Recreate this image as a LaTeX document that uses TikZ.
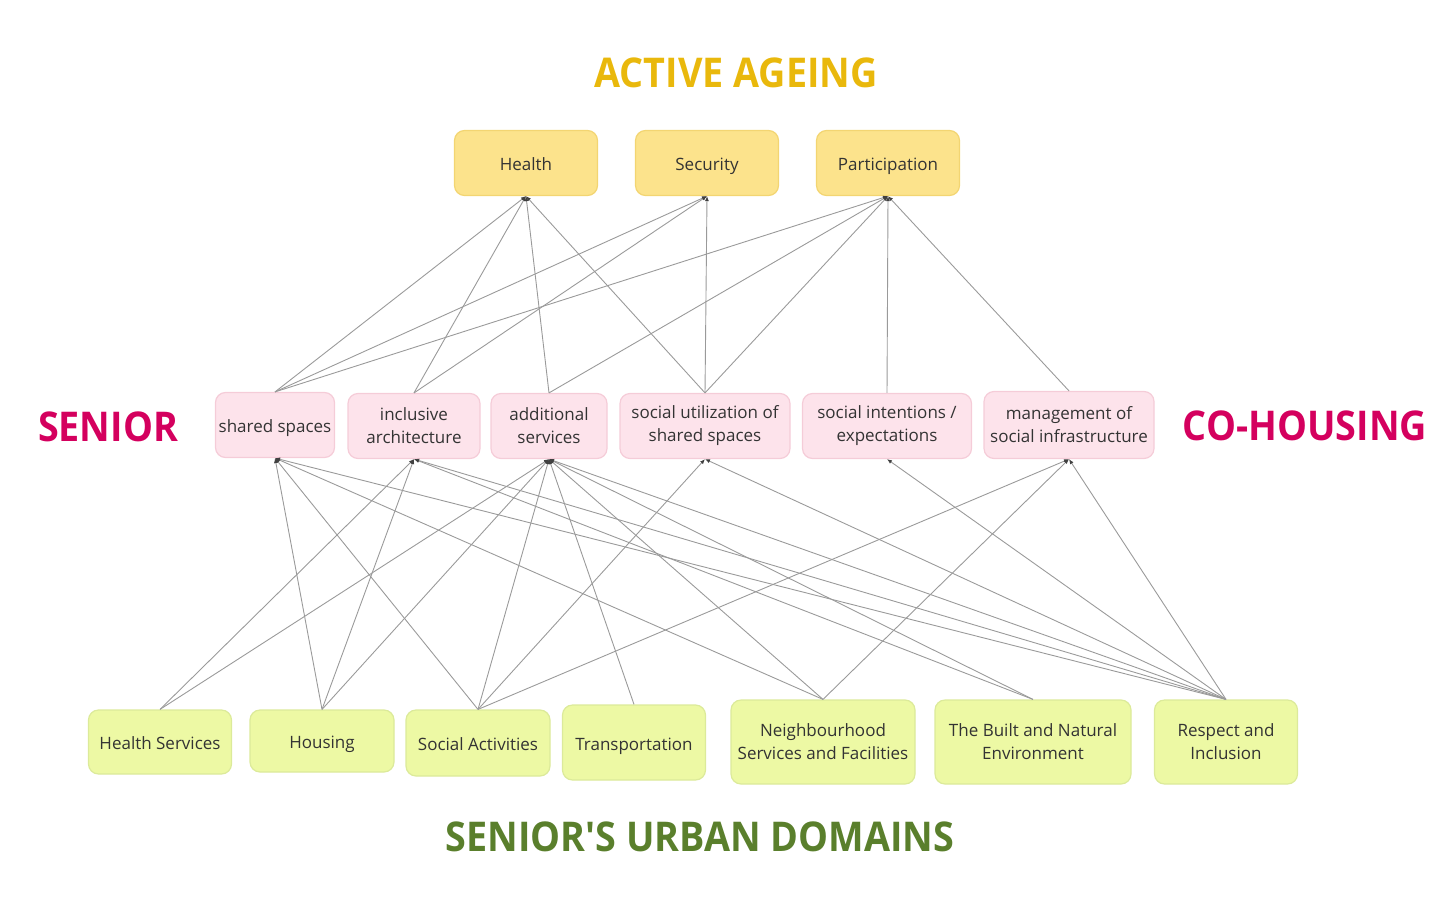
\documentclass[tikz,border=0pt]{standalone}
\usepackage{fontspec}
\setmainfont{Open Sans}
\newfontfamily\headfont[FakeStretch=0.92]{Open Sans}
\usepackage{tikz}
\usetikzlibrary{arrows.meta}

\definecolor{goalfill}{HTML}{FCE38C}
\definecolor{goalline}{HTML}{F3D572}
\definecolor{toolfill}{HTML}{FDE3EB}
\definecolor{toolline}{HTML}{F5CCD8}
\definecolor{domfill}{HTML}{EDF9A4}
\definecolor{domline}{HTML}{DCEA9A}
\definecolor{goldtitle}{HTML}{E9B80C}
\definecolor{pinktitle}{HTML}{D4005E}
\definecolor{greentitle}{HTML}{5A7F2C}
\definecolor{linegray}{HTML}{9A9A9A}

\begin{document}
\begin{tikzpicture}[x=0.5pt,y=-0.5pt,
    box/.style={rounded corners=5pt, line width=0.6pt, align=center, inner sep=0pt,
        font=\fontsize{8.5}{11.5}\selectfont, text=black!80},
    oneline/.style={text height=8.2pt, text depth=0.5pt},
    goalbox/.style={box, oneline, fill=goalfill, draw=goalline, minimum width=71.5pt, minimum height=32.5pt},
    toolbox/.style={box, fill=toolfill, draw=toolline, minimum height=32.5pt},
    dombox/.style={box, fill=domfill, draw=domline, minimum height=32pt},
    headline/.style={font=\headfont\fontsize{20.5}{24}\selectfont\bfseries},
    link/.style={draw=linegray, line width=0.45pt, -{Latex[length=2.5pt,width=2pt,color=black!75]}}]
    \useasboundingbox (0,0) rectangle (1444,899);

    % titles
    \node[headline, text=goldtitle] (ageing) at (736,73) {ACTIVE AGEING};
    \node[headline, text=pinktitle] (senior) at (108,427) {SENIOR};
    \node[headline, text=pinktitle] (cohousing) at (1305,426) {CO-HOUSING};
    \node[headline, text=greentitle] (urban) at (700,837) {SENIOR{\char"27}S URBAN DOMAINS};

    % active ageing
    \node[goalbox] (health) at (526,163) {Health};
    \node[goalbox] (security) at (707,163) {Security};
    \node[goalbox] (particip) at (888,163) {Participation};

    % co-housing
    \node[toolbox, oneline, minimum width=59.5pt] (shared) at (275,425) {shared spaces};
    \node[toolbox, minimum width=66pt] (inclus) at (414,426) {inclusive\\architecture};
    \node[toolbox, minimum width=58pt] (addserv) at (549,426) {additional\\services};
    \node[toolbox, minimum width=85pt] (socutil) at (705,426) {social utilization of\\shared spaces};
    \node[toolbox, minimum width=84.5pt] (socint) at (887,426) {social intentions /\\expectations};
    \node[toolbox, minimum width=85pt, minimum height=33.5pt] (manage) at (1069,425) {management of\\social infrastructure};

    % urban domains
    \node[dombox, oneline, minimum width=71.5pt] (hserv) at (160,742) {Health Services};
    \node[dombox, oneline, minimum width=72pt, minimum height=31pt] (housing) at (322,741) {Housing};
    \node[dombox, oneline, minimum width=72pt, minimum height=33pt] (socact) at (478,743) {Social Activities};
    \node[dombox, oneline, minimum width=71.5pt, minimum height=37.5pt] (transp) at (634,742.5) {Transportation};
    \node[dombox, minimum width=92pt, minimum height=42pt] (neighb) at (823,742) {Neighbourhood\\Services and Facilities};
    \node[dombox, minimum width=98pt, minimum height=42pt] (built) at (1033,742) {The Built and Natural\\Environment};
    \node[dombox, minimum width=71.5pt, minimum height=42pt] (respect) at (1226,742) {Respect and\\Inclusion};

    % co-housing to active ageing
    \draw[link] (shared.north) -- (health.south);
    \draw[link] (inclus.north) -- (health.south);
    \draw[link] (addserv.north) -- (health.south);
    \draw[link] (socutil.north) -- (health.south);
    \draw[link] (shared.north) -- (security.south);
    \draw[link] (inclus.north) -- (security.south);
    \draw[link] (socutil.north) -- (security.south);
    \draw[link] (shared.north) -- (particip.south);
    \draw[link] (addserv.north) -- (particip.south);
    \draw[link] (socutil.north) -- (particip.south);
    \draw[link] (socint.north) -- (particip.south);
    \draw[link] (manage.north) -- (particip.south);

    % urban domains to co-housing
    \draw[link] (housing.north) -- (shared.south);
    \draw[link] (socact.north) -- (shared.south);
    \draw[link] (neighb.north) -- (shared.south);
    \draw[link] (respect.north) -- (shared.south);
    \draw[link] (hserv.north) -- (inclus.south);
    \draw[link] (housing.north) -- (inclus.south);
    \draw[link] (built.north) -- (inclus.south);
    \draw[link] (respect.north) -- (inclus.south);
    \draw[link] (hserv.north) -- (addserv.south);
    \draw[link] (housing.north) -- (addserv.south);
    \draw[link] (socact.north) -- (addserv.south);
    \draw[link] (transp.north) -- (addserv.south);
    \draw[link] (neighb.north) -- (addserv.south);
    \draw[link] (built.north) -- (addserv.south);
    \draw[link] (respect.north) -- (addserv.south);
    \draw[link] (socact.north) -- (socutil.south);
    \draw[link] (respect.north) -- (socutil.south);
    \draw[link] (respect.north) -- (socint.south);
    \draw[link] (socact.north) -- (manage.south);
    \draw[link] (neighb.north) -- (manage.south);
    \draw[link] (respect.north) -- (manage.south);
\end{tikzpicture}
\end{document}
